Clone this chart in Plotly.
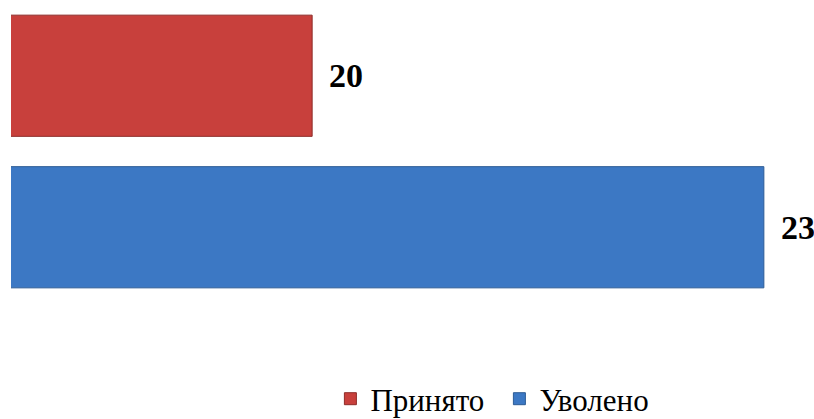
import plotly.graph_objects as go

categories = ["Принято", "Уволено"]
values = [20, 23]
colors = ["#C8403C", "#3C78C4"]
line_colors = ["#8E2C29", "#2D5C96"]

fig = go.Figure()
for cat, val, col, lc in zip(categories, values, colors, line_colors):
    fig.add_trace(go.Bar(
        y=[cat], x=[val], orientation="h", name=cat,
        marker=dict(color=col, line=dict(color=lc, width=1)),
        width=0.8, base=0,
    ))
    fig.add_annotation(
        x=val, y=cat, text="<b>%d</b>" % val, showarrow=False,
        xanchor="left", xshift=15,
        font=dict(family="Liberation Serif", size=34, color="#000000"),
    )

fig.update_layout(
    width=814, height=419,
    margin=dict(l=11, r=14, t=0, b=116, autoexpand=False),
    paper_bgcolor="white", plot_bgcolor="white",
    barmode="overlay",
    showlegend=True,
    legend=dict(orientation="h", x=0.619, xanchor="center", y=-0.317, yanchor="middle",
                entrywidth=124, entrywidthmode="pixels",
                font=dict(family="Liberation Serif", size=31, color="#000000")),
    xaxis=dict(range=[18, 23.24], visible=False),
    yaxis=dict(autorange="reversed", visible=False, categoryorder="array", categoryarray=categories),
)
fig.write_html("out.html", config={"displayModeBar": False},
               post_script="document.body.style.margin='0';")
